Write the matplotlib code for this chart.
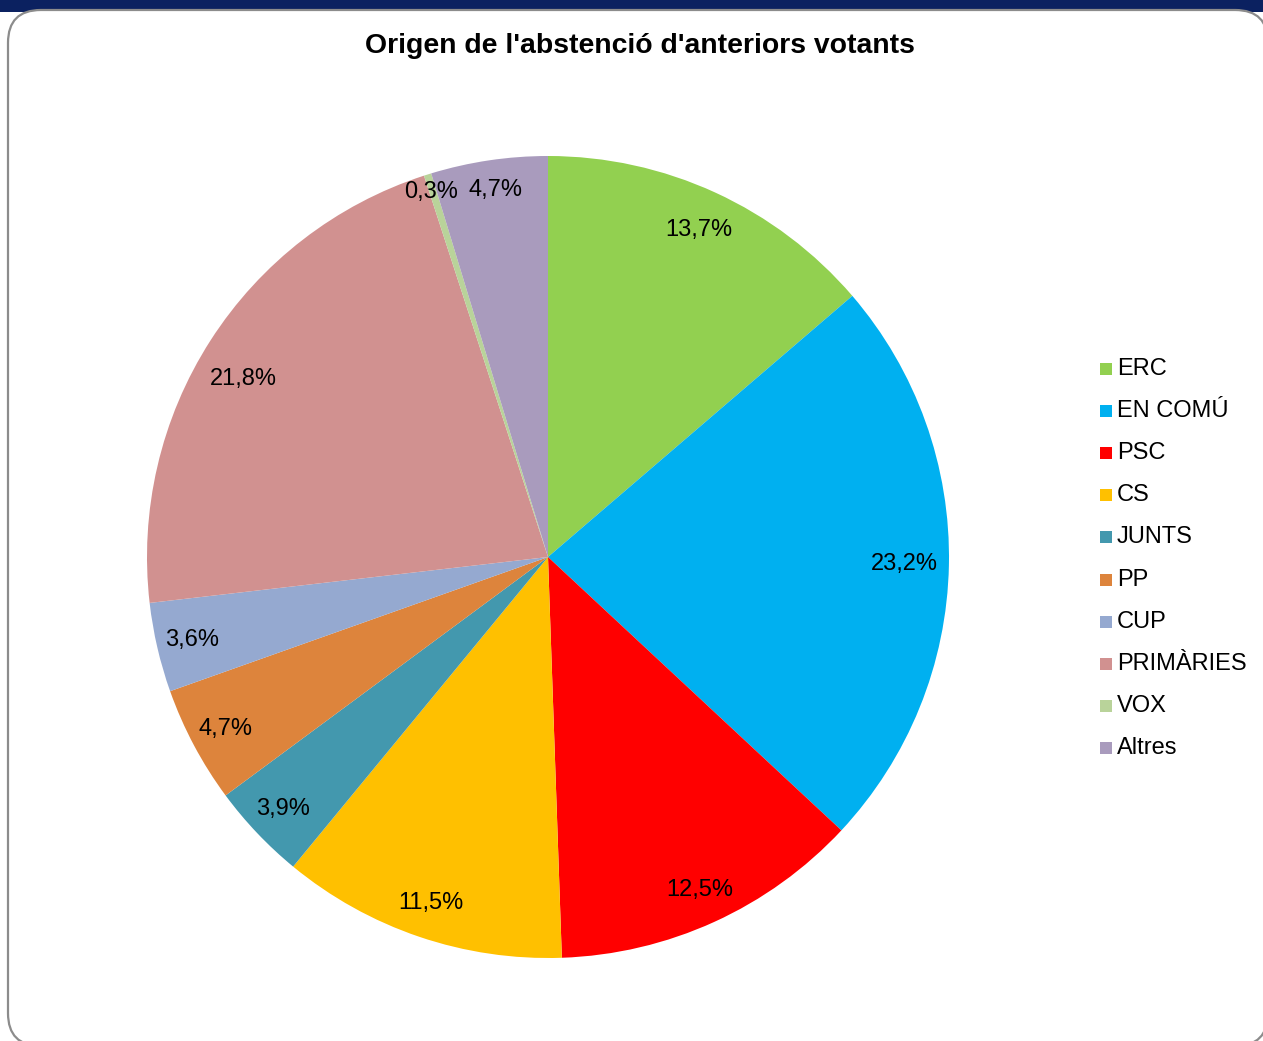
import matplotlib
matplotlib.use("Agg")
import matplotlib.pyplot as plt
from matplotlib.patches import FancyBboxPatch, Rectangle
import numpy as np

plt.rcParams['font.family'] = ['Liberation Sans', 'DejaVu Sans']

categories = ["ERC", "EN COMÚ", "PSC", "CS", "JUNTS", "PP", "CUP", "PRIMÀRIES", "VOX", "Altres"]
values = [13.7, 23.2, 12.5, 11.5, 3.9, 4.7, 3.6, 21.8, 0.3, 4.7]
colors = ["#92D050", "#00B0F0", "#FF0000", "#FFC000", "#4398AE", "#DD843C",
          "#95A9D0", "#D19190", "#B9D39A", "#A99BBD"]
title = "Origen de l'abstenció d'anteriors votants"

W, H = 1263, 1041
fig = plt.figure(figsize=(W / 100, H / 100), dpi=100)

# top navy banner
fig.patches.append(Rectangle((0, 1 - 12 / H), 1, 12 / H, transform=fig.transFigure,
                             facecolor="#0B2160", edgecolor="none", zorder=-5))
# rounded card border (x 8..1268, y 10..1046 in pixels from top)
x0, x1, yt, yb = 8, 1268, 10, 1046
card = FancyBboxPatch((x0 / W, 1 - yb / H), (x1 - x0) / W, (yb - yt) / H,
                      boxstyle="round,pad=0,rounding_size=0.026",
                      transform=fig.transFigure, facecolor="white",
                      edgecolor="#8C8C8C", linewidth=1.6, zorder=-4,
                      mutation_aspect=W / H)
fig.patches.append(card)

fig.text(640 / W, 1 - 46 / H, title, ha="center", va="center",
         fontsize=20.4, fontweight="bold", color="black", zorder=5)

cx, cy, r = 548, 557, 401
ax = fig.add_axes([(cx - r) / W, (H - cy - r) / H, 2 * r / W, 2 * r / H])
ax.set_zorder(2)
wedges, _ = ax.pie(values, colors=colors, startangle=90, counterclock=False,
                   radius=1.0, wedgeprops=dict(linewidth=0))
ax.set_xlim(-1, 1)
ax.set_ylim(-1, 1)
ax.set_aspect("equal")
ax.axis("off")

# label placement tweaks (radius, dx, dy) in axes units
place = {"ERC": (0.898, 0, 0), "EN COMÚ": (0.888, 0, 0),
         "PRIMÀRIES": (0.885, -0.015, -0.035),
         "VOX": (0.96, -0.003, -0.005), "Altres": (0.93, 0.005, -0.005)}

total = sum(values)
cum = 0
for i, v in enumerate(values):
    mid = (cum + v / 2) / total
    cum += v
    ang = np.deg2rad(90 - 360 * mid)
    d, dx, dy = place.get(categories[i], (0.912, 0, 0))
    x = d * np.cos(ang) + dx
    y = d * np.sin(ang) + dy
    lab = f"{v:.1f}%".replace(".", ",")
    ax.text(x, y, lab, ha="center", va="center", fontsize=17, color="black", zorder=6)

# legend
ly0 = 369
dyl = 42.1
for i, (c, col) in enumerate(zip(categories, colors)):
    y = ly0 + i * dyl
    fig.patches.append(Rectangle((1100 / W, 1 - (y + 6) / H), 12 / W, 12 / H,
                                 transform=fig.transFigure, facecolor=col,
                                 edgecolor="none", zorder=5))
    fig.text(1117 / W, 1 - y / H, c, ha="left", va="center", fontsize=17,
             color="black", zorder=5)

fig.savefig("out.png", dpi=100)
